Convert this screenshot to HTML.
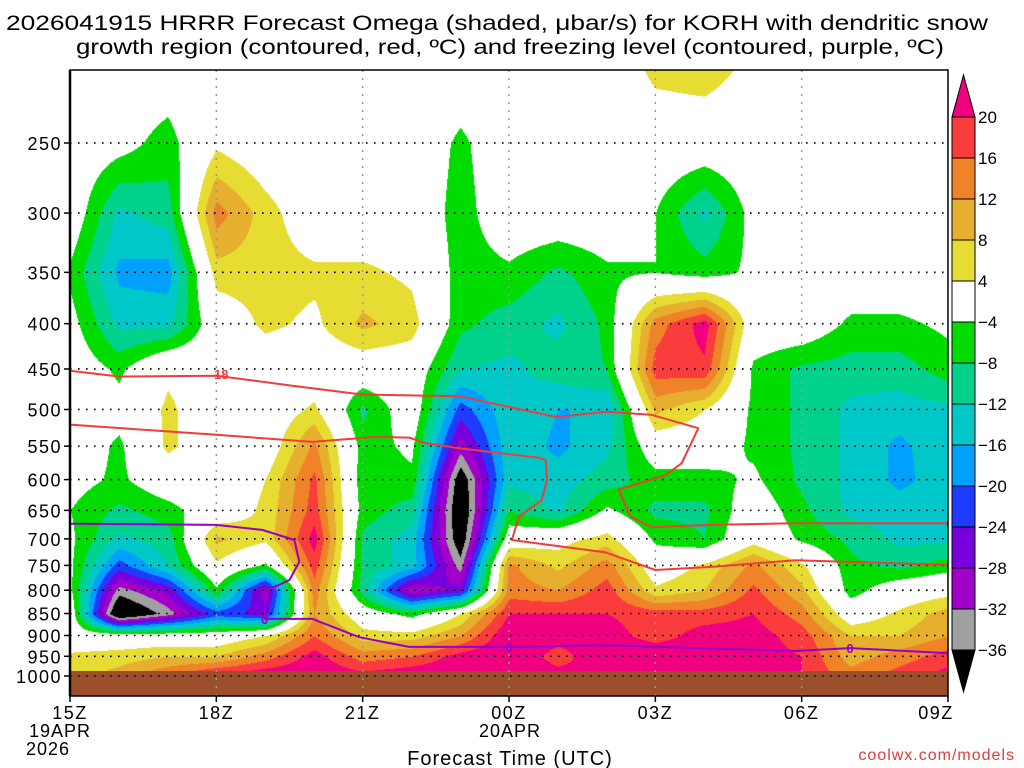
<!DOCTYPE html>
<html><head><meta charset="utf-8"><style>
html,body{margin:0;padding:0;background:#fff;}
#wrap{position:relative;width:1024px;height:768px;overflow:hidden;font-family:"Liberation Sans",sans-serif;}
canvas{position:absolute;left:70px;top:70px;}
svg{position:absolute;left:0;top:0;}
</style></head><body>
<div id="wrap">
<canvas id="field" width="878" height="626"></canvas>
<svg id="ov" width="1024" height="768"></svg>
</div>
<script>
const hours=[0,1,2,3,4,5,6,7,8,9,10,11,12,13,14,15,16,17,18];
const levels=[1000,950,900,850,800,750,700,650,600,550,500,450,400,350,300,250,200];
const omega=[
[6,10,16,22,24,24,22,24,24,24,22,20,22,24,22,20,14,18,22],
[5,6,8,8,14,22,14,16,22,24,18,24,24,24,22,20,10,14,18],
[0,0,0,0,4,16,6,6,12,24,22,22,18,22,22,18,8,8,12],
[0,-44,-34,-22,-26,12,0,-6,4,20,20,20,18,18,20,14,0,5,10],
[-3,-34,-27,-5,-31,14,-10,-32,-26,14,12,18,5,8,17,9,-6,0,2],
[-3,-22,-12,3,-5,18,-9,-14,-34,13,7,14,0,5,13,5,-7,-9,-6],
[-3,-13,-10,9,5,22,-9,-14,-40,0,2,6,-5,-8,2,-5,-9,-13,-13],
[-4,-9,-6,0,5,18,-6,-10,-42,-8,-13,-3,-9,-9,0,-7,-13,-14,-13],
[-2,-5,0,0,4,17,-7,-5,-40,-13,-14,-10,-6,-6,-3,-9,-13,-17,-14],
[0,-5,5,0,0,13,-6,-3,-30,-13,-17,-13,0,0,-5,-9,-13,-17,-13],
[0,-2,5,0,0,5,-9,0,-22,-13,-16,-16,9,4,-5,-9,-13,-14,-13],
[0,-5,3,0,0,0,0,0,-12,-13,-10,-8,18,19,-5,-9,-10,-10,-6],
[-2,-13,-13,0,5,3,9,6,-7,-10,-13,-7,14,22,0,0,-5,-5,-3],
[-5,-17,-18,6,6,5,5,3,-6,-5,-9,-5,-4,-6,-3,0,0,0,0],
[0,-13,-10,14,6,0,0,0,-6,0,0,0,-4,-13,-2,0,0,0,0],
[0,-2,-6,3,0,0,0,0,-5,0,0,0,0,0,0,0,0,0,0],
[0,0,0,0,0,0,0,0,0,0,0,0,6,7,3,0,0,0,0]];
const dgzUpperH=[0,1.02,3,4.56,6,7.98,9.61,9.96,10.98,11.92,12.88,12.54,12.21,11.25,11.49,11.92,13.15,14.87,17.93,18];
const dgzUpperP=[452,459,458,470,481,483,505,510,503,507,525,575,593,616,661,679,675,672,672,673];
const dgzLowerH=[0,3,4.97,6.28,6.95,7.3,7.98,9.61,9.75,9.78,9.67,9.2,9.06,10.98,12,13.15,14.87,17.93,18];
const dgzLowerP=[520,534,544,537,538,546,553,567,570,601,633,661,702,725,759,753,740,749,750];
const frzH=[0,3,3.95,4.6,4.7,4.5,4.15,3.99,3.99,3.99,4.97,5.93,6.95,9,10.98,14.87,15.99,17.93,18];
const frzP=[673,675,684,702,743,779,795,804,820,862,862,904,927,927,923,937,930,942,943];
const yTicks=[250,300,350,400,450,500,550,600,650,700,750,800,850,900,950,1000];
const xTickH=[0,3,6,9,12,15,18];
const xTickLabels=["15Z","18Z","21Z","00Z","03Z","06Z","09Z"];
const cbLevels=[20,16,12,8,4,-4,-8,-12,-16,-20,-24,-28,-32,-36];
const cbColors=["#f0007f","#fa3c3c","#f08228","#e6af2d","#e6dc32","#ffffff","#00dc00","#00d28c","#00c8c8","#00a0ff","#1e3cff","#7800dc","#a000c8","#a0a0a0","#000000"];

const L=70,R=948,T=70,B=696;
function X(h){return L+h*(R-L)/18;}
function Y(p){return 676+384.5*Math.log(p/1000);}
function hex(c){return [parseInt(c.substr(1,2),16),parseInt(c.substr(3,2),16),parseInt(c.substr(5,2),16)];}
const cv=document.getElementById('field'),ctx=cv.getContext('2d');
const W=cv.width,H=cv.height,img=ctx.createImageData(W,H);
const rgb=cbColors.map(hex);
for(let py=0;py<H;py++){
  const p=1000*Math.exp((py+T-676)/384.5);
  let fi=(levels[0]-p)/50; if(fi<0)fi=0; if(fi>levels.length-1)fi=levels.length-1;
  const i0=Math.min(Math.floor(fi),levels.length-2),fy=fi-i0;
  for(let px=0;px<W;px++){
    let fh=px/((R-L)/18); if(fh>18)fh=18;
    const j0=Math.min(Math.floor(fh),hours.length-2),fx=fh-j0;
    const v=(omega[i0][j0]*(1-fx)+omega[i0][j0+1]*fx)*(1-fy)+(omega[i0+1][j0]*(1-fx)+omega[i0+1][j0+1]*fx)*fy;
    let k=14;for(let i=0;i<cbLevels.length;i++){if(v>=cbLevels[i]){k=i;break;}}
    const c=rgb[k],o=(py*W+px)*4;img.data[o]=c[0];img.data[o+1]=c[1];img.data[o+2]=c[2];img.data[o+3]=255;
  }
}
ctx.putImageData(img,0,0);
const NS="http://www.w3.org/2000/svg",sv=document.getElementById('ov');
function mk(tag,at,parent){const e=document.createElementNS(NS,tag);for(const k in at)e.setAttribute(k,at[k]);(parent||sv).appendChild(e);return e;}
function txt(s,at){const e=mk('text',at);e.textContent=s;return e;}
let e;
e=mk('rect',{x:L,y:671,width:R-L,height:B-671,fill:'#9c4f2b'});


yTicks.forEach(p=>{
  e=mk('line',{x1:L,x2:R,y1:Y(p),y2:Y(p),stroke:'#000','stroke-width':1.6,'stroke-dasharray':'1.6,6.4'});
  
  
  e=mk('line',{x1:L-6,x2:L,y1:Y(p),y2:Y(p),stroke:'#000','stroke-width':1.5});
  
  
  e=txt(String(p),{x:L-8,y:Y(p)+7,'text-anchor':'end','font-size':18,'letter-spacing':'1.5',fill:'#000'});
  
  
});
xTickH.forEach((h,i)=>{
  if(i>0&&i<xTickH.length-1){
    e=mk('line',{x1:X(h),x2:X(h),y1:T,y2:B,stroke:'#999','stroke-width':1.5,'stroke-dasharray':'2,6'});
    
    
  }
  e=mk('line',{x1:X(h),x2:X(h),y1:B,y2:B+6,stroke:'#000','stroke-width':1.5});
  
  
  e=txt(xTickLabels[i],{x:X(h)-(i==6?12:0),y:719,'text-anchor':'middle','font-size':18,'letter-spacing':'1.5',fill:'#000'});
  
  
});
function poly(hs,ps,color,w,name){
  const pts=hs.map((h,i)=>X(h).toFixed(1)+','+Y(ps[i]).toFixed(1)).join(' ');
  const el=mk('polyline',{points:pts,fill:'none',stroke:color,'stroke-width':w,'stroke-linejoin':'round'});
  
  
}
poly(dgzUpperH,dgzUpperP,'#f03c3c',2,'dgz-contour-minus18');
poly(dgzLowerH,dgzLowerP,'#f03c3c',2,'dgz-contour-minus12');
poly(frzH,frzP,'#9600c8',2,'freezing-level-contour');
function clabel(s,h,p,color,name){
  e=txt(s,{x:X(h),y:Y(p)+5,'text-anchor':'middle','font-size':13,'font-weight':'bold',fill:color});
  
  
}
clabel('18',3.1,456,'#f03c3c','contour-label-18');
clabel('0',3.99,862,'#9600c8','contour-label-0');
clabel('0',9,927,'#9600c8','contour-label-0');
clabel('0',15.99,930,'#9600c8','contour-label-0');
e=mk('rect',{x:L,y:T,width:R-L,height:B-T,fill:'none',stroke:'#000','stroke-width':1.5});


e=mk('line',{x1:L,x2:L,y1:T,y2:B,stroke:'#000','stroke-width':2.5});


const cbx=952,cbw=23,cbTop=117,cbStep=41;
e=mk('polygon',{points:`${cbx},${cbTop} ${cbx+cbw},${cbTop} ${cbx+cbw/2},75`,fill:cbColors[0],stroke:'#000','stroke-width':1});


for(let i=1;i<14;i++){
  e=mk('rect',{x:cbx,y:cbTop+(i-1)*cbStep,width:cbw,height:cbStep,fill:cbColors[i],stroke:'#000','stroke-width':1});
  
  
}
const cbBot=cbTop+13*cbStep;
e=mk('polygon',{points:`${cbx},${cbBot} ${cbx+cbw},${cbBot} ${cbx+cbw/2},${cbBot+42}`,fill:cbColors[14],stroke:'#000','stroke-width':1});


cbLevels.forEach((v,i)=>{
  e=txt(v<0?'\u2212'+(-v):String(v),{x:978,y:cbTop+i*cbStep+6,'font-size':17,fill:'#000'});
  
  
});
</script>
<svg width="1024" height="768" style="position:absolute;left:0;top:0">
<text x="497" y="30" text-anchor="middle" font-size="21" textLength="982" lengthAdjust="spacingAndGlyphs" font-family="Liberation Sans">2026041915 HRRR Forecast Omega (shaded, μbar/s) for KORH with dendritic snow</text>
<text x="510" y="54" text-anchor="middle" font-size="21" textLength="868" lengthAdjust="spacingAndGlyphs" font-family="Liberation Sans">growth region (contoured, red, ºC) and freezing level (contoured, purple, ºC)</text>
<text x="60" y="737" text-anchor="middle" font-size="18" letter-spacing="1" font-family="Liberation Sans">19APR</text>
<text x="48" y="755" text-anchor="middle" font-size="18" letter-spacing="1" font-family="Liberation Sans">2026</text>
<text x="510" y="737" text-anchor="middle" font-size="18" letter-spacing="1" font-family="Liberation Sans">20APR</text>
<text x="510" y="765" text-anchor="middle" font-size="20" letter-spacing="1" font-family="Liberation Sans">Forecast Time (UTC)</text>
<text x="1015" y="760" text-anchor="end" font-size="16" letter-spacing="1" fill="#e03c3c" font-family="Liberation Sans">coolwx.com/models</text>
</svg>
</body></html>
